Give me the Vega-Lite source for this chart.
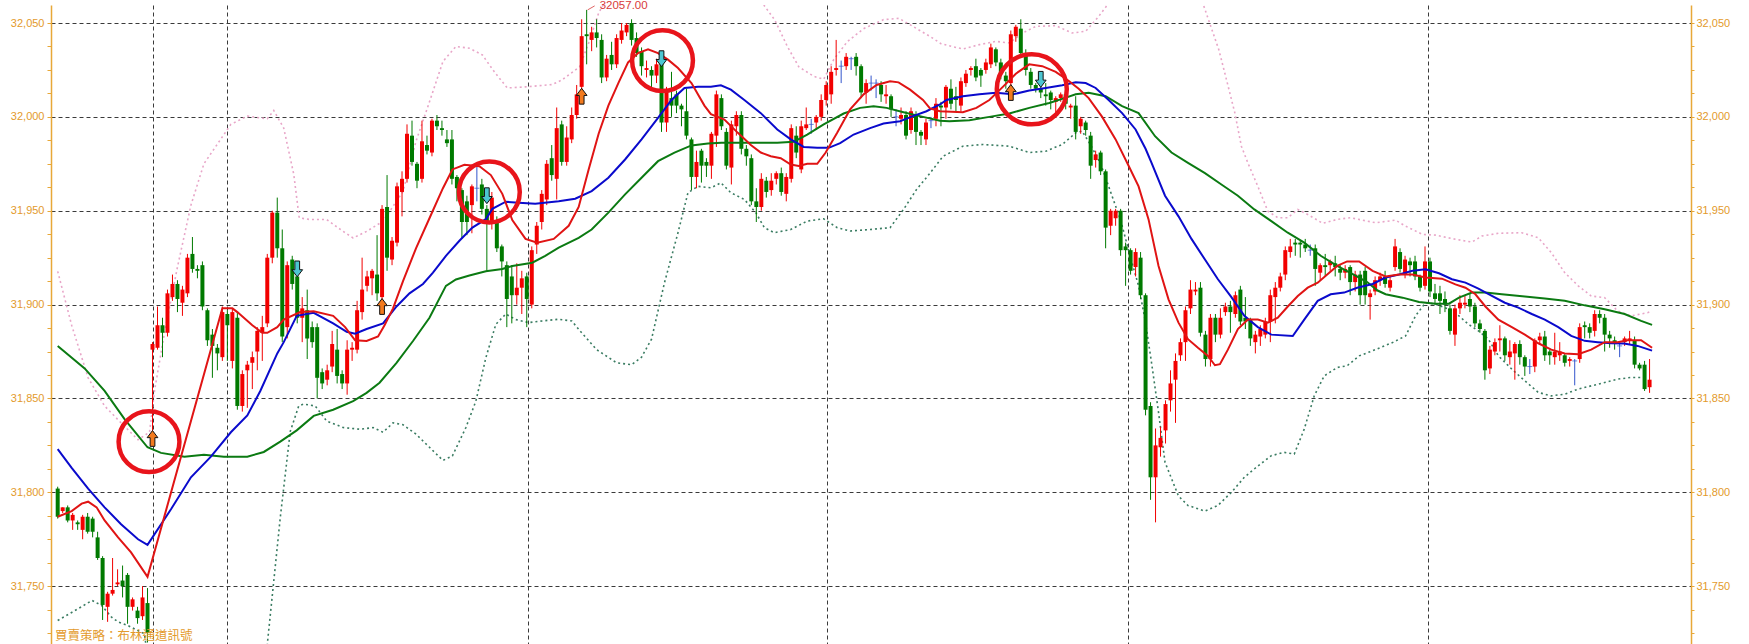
{
"$schema":"https://vega.github.io/schema/vega-lite/v6.json",
"width":1640,"height":639,
"autosize":{"type":"none"},
"padding":{"left":51,"top":5,"right":58,"bottom":0},
"background":"white",
"config":{"view":{"stroke":null}},
"datasets":{
"candles":[
{"i":0,"o":31802,"h":31803,"l":31786,"c":31787},{"i":1,"o":31790,"h":31792,"l":31789,"c":31792},{"i":2,"o":31792,"h":31793,"l":31784,"c":31785},{"i":3,"o":31785,"h":31789,"l":31780,"c":31788},{"i":4,"o":31784,"h":31785,"l":31780,"c":31783},{"i":5,"o":31780,"h":31788,"l":31775,"c":31787},{"i":6,"o":31787,"h":31789,"l":31778,"c":31779},{"i":7,"o":31786,"h":31787,"l":31776,"c":31779},{"i":8,"o":31776,"h":31779,"l":31764,"c":31765},{"i":9,"o":31765,"h":31766,"l":31732,"c":31740},
{"i":10,"o":31739,"h":31747,"l":31731,"c":31746},{"i":11,"o":31746,"h":31765,"l":31745,"c":31748},{"i":12,"o":31751,"h":31759,"l":31750,"c":31752},{"i":13,"o":31753,"h":31761,"l":31744,"c":31750},{"i":14,"o":31756,"h":31757,"l":31730,"c":31739},{"i":15,"o":31739,"h":31744,"l":31737,"c":31743},{"i":16,"o":31737,"h":31739,"l":31730,"c":31733},{"i":17,"o":31734,"h":31750,"l":31732,"c":31744},{"i":18,"o":31741,"h":31749,"l":31720,"c":31725},{"i":19,"o":31876,"h":31880,"l":31830,"c":31879},
{"i":20,"o":31877,"h":31899,"l":31876,"c":31889},{"i":21,"o":31889,"h":31893,"l":31872,"c":31885},{"i":22,"o":31885,"h":31908,"l":31883,"c":31906},{"i":23,"o":31904,"h":31916,"l":31902,"c":31911},{"i":24,"o":31911,"h":31913,"l":31896,"c":31903},{"i":25,"o":31901,"h":31910,"l":31894,"c":31908},{"i":26,"o":31906,"h":31927,"l":31904,"c":31925},{"i":27,"o":31927,"h":31936,"l":31917,"c":31919},{"i":28,"o":31919,"h":31921,"l":31914,"c":31918},{"i":29,"o":31921,"h":31923,"l":31897,"c":31899},
{"i":30,"o":31897,"h":31898,"l":31878,"c":31881},{"i":31,"o":31884,"h":31887,"l":31861,"c":31878},{"i":32,"o":31877,"h":31879,"l":31865,"c":31874},{"i":33,"o":31872,"h":31899,"l":31870,"c":31896},{"i":34,"o":31895,"h":31897,"l":31870,"c":31889},{"i":35,"o":31870,"h":31898,"l":31866,"c":31896},{"i":36,"o":31893,"h":31896,"l":31844,"c":31846},{"i":37,"o":31846,"h":31865,"l":31843,"c":31863},{"i":38,"o":31865,"h":31870,"l":31845,"c":31868},{"i":39,"o":31869,"h":31875,"l":31855,"c":31872},
{"i":40,"o":31875,"h":31888,"l":31865,"c":31886},{"i":41,"o":31885,"h":31894,"l":31870,"c":31888},{"i":42,"o":31890,"h":31927,"l":31888,"c":31925},{"i":43,"o":31925,"h":31950,"l":31922,"c":31949},{"i":44,"o":31949,"h":31957,"l":31925,"c":31930},{"i":45,"o":31930,"h":31940,"l":31880,"c":31883},{"i":46,"o":31888,"h":31923,"l":31882,"c":31921},{"i":47,"o":31924,"h":31926,"l":31908,"c":31911},{"i":48,"o":31915,"h":31917,"l":31890,"c":31893},{"i":49,"o":31893,"h":31904,"l":31880,"c":31898},
{"i":50,"o":31897,"h":31908,"l":31871,"c":31882},{"i":51,"o":31888,"h":31891,"l":31877,"c":31880},{"i":52,"o":31888,"h":31890,"l":31850,"c":31861},{"i":53,"o":31864,"h":31866,"l":31855,"c":31858},{"i":54,"o":31860,"h":31868,"l":31857,"c":31865},{"i":55,"o":31867,"h":31886,"l":31864,"c":31879},{"i":56,"o":31876,"h":31887,"l":31858,"c":31862},{"i":57,"o":31863,"h":31865,"l":31855,"c":31858},{"i":58,"o":31858,"h":31881,"l":31852,"c":31876},{"i":59,"o":31876,"h":31880,"l":31870,"c":31877},
{"i":60,"o":31876,"h":31902,"l":31874,"c":31897},{"i":61,"o":31896,"h":31925,"l":31892,"c":31908},{"i":62,"o":31910,"h":31918,"l":31907,"c":31915},{"i":63,"o":31914,"h":31919,"l":31905,"c":31918},{"i":64,"o":31916,"h":31937,"l":31902,"c":31906},{"i":65,"o":31904,"h":31953,"l":31900,"c":31951},{"i":66,"o":31952,"h":31969,"l":31918,"c":31925},{"i":67,"o":31924,"h":31936,"l":31921,"c":31934},{"i":68,"o":31933,"h":31965,"l":31931,"c":31963},{"i":69,"o":31960,"h":31971,"l":31947,"c":31967},
{"i":70,"o":31967,"h":31996,"l":31965,"c":31991},{"i":71,"o":31990,"h":31998,"l":31974,"c":31976},{"i":72,"o":31975,"h":31976,"l":31962,"c":31966},{"i":73,"o":31967,"h":31998,"l":31965,"c":31987},{"i":74,"o":31985,"h":31990,"l":31980,"c":31982},{"i":75,"o":31981,"h":31999,"l":31979,"c":31998},{"i":76,"o":31998,"h":32001,"l":31993,"c":31995},{"i":77,"o":31994,"h":31998,"l":31990,"c":31993},{"i":78,"o":31988,"h":31993,"l":31984,"c":31986},{"i":79,"o":31988,"h":31993,"l":31964,"c":31967},
{"i":80,"o":31968,"h":31969,"l":31955,"c":31962},{"i":81,"o":31961,"h":31962,"l":31935,"c":31944},{"i":82,"o":31955,"h":31958,"l":31937,"c":31944},{"i":83,"o":31953,"h":31964,"l":31938,"c":31963},{"i":84,"o":31962,"h":31975,"l":31955,"c":31962},{"i":85,"o":31964,"h":31967,"l":31948,"c":31951},{"i":86,"o":31951,"h":31953,"l":31918,"c":31944},{"i":87,"o":31944,"h":31960,"l":31940,"c":31957},{"i":88,"o":31945,"h":31947,"l":31928,"c":31930},{"i":89,"o":31931,"h":31932,"l":31915,"c":31923},
{"i":90,"o":31921,"h":31923,"l":31888,"c":31903},{"i":91,"o":31915,"h":31921,"l":31890,"c":31905},{"i":92,"o":31905,"h":31922,"l":31900,"c":31909},{"i":93,"o":31909,"h":31918,"l":31895,"c":31914},{"i":94,"o":31915,"h":31917,"l":31888,"c":31903},{"i":95,"o":31900,"h":31931,"l":31898,"c":31929},{"i":96,"o":31932,"h":31944,"l":31927,"c":31942},{"i":97,"o":31944,"h":31961,"l":31940,"c":31959},{"i":98,"o":31956,"h":31977,"l":31953,"c":31975},{"i":99,"o":31978,"h":31985,"l":31966,"c":31969},
{"i":100,"o":31967,"h":32005,"l":31956,"c":31994},{"i":101,"o":31996,"h":31998,"l":31974,"c":31976},{"i":102,"o":31976,"h":31995,"l":31974,"c":31989},{"i":103,"o":31988,"h":32005,"l":31986,"c":32001},{"i":104,"o":32001,"h":32017,"l":31999,"c":32012},{"i":105,"o":32016,"h":32052,"l":32014,"c":32043},{"i":106,"o":32044,"h":32057,"l":32028,"c":32043},{"i":107,"o":32041,"h":32048,"l":32035,"c":32045},{"i":108,"o":32045,"h":32052,"l":32037,"c":32042},{"i":109,"o":32041,"h":32044,"l":32018,"c":32021},
{"i":110,"o":32021,"h":32033,"l":32019,"c":32031},{"i":111,"o":32033,"h":32040,"l":32025,"c":32028},{"i":112,"o":32028,"h":32044,"l":32026,"c":32042},{"i":113,"o":32041,"h":32050,"l":32039,"c":32046},{"i":114,"o":32045,"h":32050,"l":32043,"c":32049},{"i":115,"o":32050,"h":32052,"l":32038,"c":32041},{"i":116,"o":32042,"h":32045,"l":32032,"c":32034},{"i":117,"o":32035,"h":32037,"l":32022,"c":32027},{"i":118,"o":32025,"h":32030,"l":32021,"c":32026},{"i":119,"o":32025,"h":32027,"l":32015,"c":32022},
{"i":120,"o":32022,"h":32031,"l":32018,"c":32028},{"i":121,"o":32030,"h":32031,"l":31992,"c":31997},{"i":122,"o":31997,"h":32016,"l":31992,"c":32014},{"i":123,"o":32010,"h":32024,"l":32000,"c":32006},{"i":124,"o":32012,"h":32014,"l":32002,"c":32006},{"i":125,"o":32006,"h":32007,"l":31995,"c":32004},{"i":126,"o":32003,"h":32015,"l":31988,"c":31990},{"i":127,"o":31988,"h":31989,"l":31961,"c":31968},{"i":128,"o":31968,"h":31982,"l":31962,"c":31976},{"i":129,"o":31982,"h":31983,"l":31965,"c":31974},
{"i":130,"o":31976,"h":31978,"l":31968,"c":31974},{"i":131,"o":31974,"h":31992,"l":31967,"c":31991},{"i":132,"o":31990,"h":32014,"l":31984,"c":32012},{"i":133,"o":32010,"h":32012,"l":31993,"c":31995},{"i":134,"o":31992,"h":31994,"l":31972,"c":31974},{"i":135,"o":31973,"h":31998,"l":31964,"c":31996},{"i":136,"o":31995,"h":32003,"l":31990,"c":32001},{"i":137,"o":32001,"h":32003,"l":31980,"c":31983},{"i":138,"o":31983,"h":31985,"l":31974,"c":31979},{"i":139,"o":31978,"h":31980,"l":31953,"c":31955},
{"i":140,"o":31955,"h":31962,"l":31944,"c":31952},{"i":141,"o":31952,"h":31970,"l":31950,"c":31967},{"i":142,"o":31966,"h":31968,"l":31957,"c":31960},{"i":143,"o":31961,"h":31970,"l":31958,"c":31966},{"i":144,"o":31967,"h":31971,"l":31964,"c":31970},{"i":145,"o":31970,"h":31973,"l":31958,"c":31960},{"i":146,"o":31959,"h":31970,"l":31955,"c":31968},{"i":147,"o":31967,"h":31996,"l":31965,"c":31994},{"i":148,"o":31990,"h":31995,"l":31978,"c":31981},{"i":149,"o":31972,"h":31998,"l":31970,"c":31995},
{"i":150,"o":31994,"h":32005,"l":31993,"c":31996},{"i":151,"o":31996,"h":31999,"l":31991,"c":31996},{"i":152,"o":31997,"h":32001,"l":31993,"c":32000},{"i":153,"o":32000,"h":32012,"l":31998,"c":32009},{"i":154,"o":32009,"h":32019,"l":32006,"c":32017},{"i":155,"o":32012,"h":32027,"l":32007,"c":32024},{"i":156,"o":32025,"h":32041,"l":32022,"c":32026},{"i":157,"o":32027,"h":32030,"l":32018,"c":32027},{"i":158,"o":32027,"h":32034,"l":32025,"c":32032},{"i":159,"o":32031,"h":32032,"l":32025,"c":32031},
{"i":160,"o":32032,"h":32034,"l":32022,"c":32027},{"i":161,"o":32027,"h":32028,"l":32010,"c":32013},{"i":162,"o":32013,"h":32020,"l":32007,"c":32018},{"i":163,"o":32018,"h":32022,"l":32014,"c":32018},{"i":164,"o":32018,"h":32020,"l":32010,"c":32018},{"i":165,"o":32017,"h":32019,"l":32008,"c":32012},{"i":166,"o":32011,"h":32017,"l":32007,"c":32012},{"i":167,"o":32011,"h":32012,"l":32000,"c":32004},{"i":168,"o":32000,"h":32004,"l":31995,"c":32000},{"i":169,"o":31999,"h":32005,"l":31996,"c":32001},
{"i":170,"o":32001,"h":32003,"l":31988,"c":31990},{"i":171,"o":31993,"h":32005,"l":31991,"c":32003},{"i":172,"o":32001,"h":32003,"l":31985,"c":31992},{"i":173,"o":31992,"h":31993,"l":31985,"c":31990},{"i":174,"o":31988,"h":31999,"l":31985,"c":31997},{"i":175,"o":31998,"h":32000,"l":31994,"c":31998},{"i":176,"o":31999,"h":32010,"l":31995,"c":32007},{"i":177,"o":32006,"h":32008,"l":31995,"c":32005},{"i":178,"o":32005,"h":32017,"l":31999,"c":32016},{"i":179,"o":32015,"h":32020,"l":32004,"c":32007},
{"i":180,"o":32011,"h":32016,"l":32003,"c":32009},{"i":181,"o":32006,"h":32021,"l":32003,"c":32019},{"i":182,"o":32018,"h":32025,"l":32016,"c":32023},{"i":183,"o":32025,"h":32027,"l":32022,"c":32026},{"i":184,"o":32027,"h":32031,"l":32019,"c":32021},{"i":185,"o":32025,"h":32026,"l":32016,"c":32022},{"i":186,"o":32025,"h":32031,"l":32023,"c":32029},{"i":187,"o":32028,"h":32039,"l":32026,"c":32037},{"i":188,"o":32036,"h":32037,"l":32027,"c":32029},{"i":189,"o":32029,"h":32031,"l":32020,"c":32023},
{"i":190,"o":32022,"h":32024,"l":32015,"c":32019},{"i":191,"o":32018,"h":32046,"l":32016,"c":32044},{"i":192,"o":32043,"h":32049,"l":32040,"c":32048},{"i":193,"o":32047,"h":32052,"l":32032,"c":32034},{"i":194,"o":32034,"h":32036,"l":32022,"c":32025},{"i":195,"o":32024,"h":32026,"l":32015,"c":32017},{"i":196,"o":32017,"h":32018,"l":32013,"c":32015},{"i":197,"o":32015,"h":32016,"l":32010,"c":32013},{"i":198,"o":32012,"h":32018,"l":32006,"c":32011},{"i":199,"o":32013,"h":32014,"l":32004,"c":32009},
{"i":200,"o":32008,"h":32011,"l":32002,"c":32010},{"i":201,"o":32010,"h":32013,"l":32008,"c":32012},{"i":202,"o":32012,"h":32013,"l":32004,"c":32007},{"i":203,"o":32005,"h":32007,"l":31999,"c":32006},{"i":204,"o":32006,"h":32011,"l":31988,"c":31992},{"i":205,"o":31995,"h":32000,"l":31991,"c":31999},{"i":206,"o":31997,"h":31998,"l":31990,"c":31993},{"i":207,"o":31990,"h":31992,"l":31967,"c":31974},{"i":208,"o":31977,"h":31982,"l":31973,"c":31980},{"i":209,"o":31981,"h":31982,"l":31969,"c":31971},
{"i":210,"o":31971,"h":31972,"l":31930,"c":31941},{"i":211,"o":31942,"h":31951,"l":31937,"c":31950},{"i":212,"o":31946,"h":31951,"l":31942,"c":31950},{"i":213,"o":31950,"h":31951,"l":31926,"c":31929},{"i":214,"o":31931,"h":31933,"l":31910,"c":31929},{"i":215,"o":31929,"h":31930,"l":31916,"c":31918},{"i":216,"o":31920,"h":31930,"l":31915,"c":31928},{"i":217,"o":31925,"h":31928,"l":31903,"c":31905},{"i":218,"o":31905,"h":31906,"l":31841,"c":31844},{"i":219,"o":31846,"h":31848,"l":31796,"c":31808},
{"i":220,"o":31808,"h":31834,"l":31784,"c":31825},{"i":221,"o":31824,"h":31835,"l":31819,"c":31829},{"i":222,"o":31833,"h":31849,"l":31826,"c":31847},{"i":223,"o":31849,"h":31865,"l":31843,"c":31858},{"i":224,"o":31860,"h":31874,"l":31837,"c":31870},{"i":225,"o":31873,"h":31882,"l":31870,"c":31880},{"i":226,"o":31880,"h":31899,"l":31870,"c":31897},{"i":227,"o":31898,"h":31913,"l":31895,"c":31908},{"i":228,"o":31907,"h":31912,"l":31905,"c":31908},{"i":229,"o":31909,"h":31912,"l":31883,"c":31885},
{"i":230,"o":31884,"h":31886,"l":31867,"c":31871},{"i":231,"o":31871,"h":31895,"l":31867,"c":31893},{"i":232,"o":31893,"h":31895,"l":31880,"c":31884},{"i":233,"o":31884,"h":31898,"l":31882,"c":31893},{"i":234,"o":31896,"h":31901,"l":31894,"c":31899},{"i":235,"o":31899,"h":31902,"l":31885,"c":31896},{"i":236,"o":31895,"h":31907,"l":31893,"c":31905},{"i":237,"o":31908,"h":31910,"l":31889,"c":31891},{"i":238,"o":31893,"h":31904,"l":31887,"c":31891},{"i":239,"o":31892,"h":31893,"l":31878,"c":31882},
{"i":240,"o":31880,"h":31886,"l":31874,"c":31884},{"i":241,"o":31883,"h":31889,"l":31878,"c":31887},{"i":242,"o":31884,"h":31893,"l":31882,"c":31891},{"i":243,"o":31891,"h":31908,"l":31880,"c":31905},{"i":244,"o":31904,"h":31912,"l":31890,"c":31909},{"i":245,"o":31909,"h":31917,"l":31907,"c":31915},{"i":246,"o":31916,"h":31931,"l":31913,"c":31929},{"i":247,"o":31928,"h":31935,"l":31925,"c":31931},{"i":248,"o":31933,"h":31935,"l":31926,"c":31932},{"i":249,"o":31933,"h":31934,"l":31925,"c":31932},
{"i":250,"o":31932,"h":31935,"l":31928,"c":31930},{"i":251,"o":31929,"h":31932,"l":31926,"c":31929},{"i":252,"o":31930,"h":31932,"l":31910,"c":31919},{"i":253,"o":31917,"h":31922,"l":31913,"c":31921},{"i":254,"o":31921,"h":31927,"l":31915,"c":31920},{"i":255,"o":31921,"h":31924,"l":31918,"c":31923},{"i":256,"o":31922,"h":31926,"l":31915,"c":31920},{"i":257,"o":31919,"h":31921,"l":31913,"c":31917},{"i":258,"o":31917,"h":31921,"l":31914,"c":31919},{"i":259,"o":31920,"h":31921,"l":31905,"c":31912},
{"i":260,"o":31912,"h":31918,"l":31907,"c":31916},{"i":261,"o":31916,"h":31918,"l":31900,"c":31905},{"i":262,"o":31918,"h":31920,"l":31900,"c":31905},{"i":263,"o":31904,"h":31908,"l":31892,"c":31906},{"i":264,"o":31907,"h":31915,"l":31905,"c":31913},{"i":265,"o":31913,"h":31917,"l":31910,"c":31915},{"i":266,"o":31915,"h":31918,"l":31909,"c":31911},{"i":267,"o":31909,"h":31915,"l":31907,"c":31913},{"i":268,"o":31920,"h":31935,"l":31918,"c":31931},{"i":269,"o":31928,"h":31930,"l":31917,"c":31919},
{"i":270,"o":31916,"h":31926,"l":31914,"c":31924},{"i":271,"o":31923,"h":31925,"l":31915,"c":31921},{"i":272,"o":31923,"h":31926,"l":31913,"c":31915},{"i":273,"o":31915,"h":31916,"l":31907,"c":31909},{"i":274,"o":31910,"h":31931,"l":31908,"c":31923},{"i":275,"o":31923,"h":31925,"l":31904,"c":31907},{"i":276,"o":31906,"h":31911,"l":31900,"c":31903},{"i":277,"o":31906,"h":31910,"l":31895,"c":31902},{"i":278,"o":31903,"h":31907,"l":31896,"c":31900},{"i":279,"o":31898,"h":31900,"l":31884,"c":31886},
{"i":280,"o":31884,"h":31900,"l":31878,"c":31898},{"i":281,"o":31898,"h":31905,"l":31895,"c":31901},{"i":282,"o":31900,"h":31905,"l":31898,"c":31901},{"i":283,"o":31903,"h":31906,"l":31896,"c":31899},{"i":284,"o":31899,"h":31901,"l":31888,"c":31890},{"i":285,"o":31890,"h":31892,"l":31885,"c":31887},{"i":286,"o":31886,"h":31887,"l":31860,"c":31865},{"i":287,"o":31866,"h":31878,"l":31863,"c":31876},{"i":288,"o":31875,"h":31882,"l":31873,"c":31880},{"i":289,"o":31881,"h":31889,"l":31875,"c":31882},
{"i":290,"o":31882,"h":31883,"l":31870,"c":31873},{"i":291,"o":31872,"h":31881,"l":31868,"c":31875},{"i":292,"o":31874,"h":31880,"l":31860,"c":31879},{"i":293,"o":31879,"h":31881,"l":31868,"c":31872},{"i":294,"o":31872,"h":31873,"l":31862,"c":31867},{"i":295,"o":31867,"h":31871,"l":31863,"c":31867},{"i":296,"o":31867,"h":31882,"l":31864,"c":31881},{"i":297,"o":31881,"h":31885,"l":31879,"c":31883},{"i":298,"o":31883,"h":31886,"l":31870,"c":31873},{"i":299,"o":31875,"h":31876,"l":31868,"c":31873},
{"i":300,"o":31872,"h":31885,"l":31868,"c":31875},{"i":301,"o":31873,"h":31880,"l":31870,"c":31875},{"i":302,"o":31873,"h":31874,"l":31867,"c":31869},{"i":303,"o":31870,"h":31872,"l":31867,"c":31871},{"i":304,"o":31870,"h":31871,"l":31857,"c":31870},{"i":305,"o":31871,"h":31890,"l":31869,"c":31888},{"i":306,"o":31889,"h":31891,"l":31882,"c":31888},{"i":307,"o":31888,"h":31890,"l":31882,"c":31885},{"i":308,"o":31886,"h":31897,"l":31883,"c":31895},{"i":309,"o":31895,"h":31897,"l":31890,"c":31893},
{"i":310,"o":31893,"h":31895,"l":31875,"c":31884},{"i":311,"o":31884,"h":31886,"l":31877,"c":31882},{"i":312,"o":31881,"h":31883,"l":31876,"c":31880},{"i":313,"o":31878,"h":31880,"l":31872,"c":31878},{"i":314,"o":31880,"h":31883,"l":31878,"c":31882},{"i":315,"o":31881,"h":31886,"l":31879,"c":31882},{"i":316,"o":31881,"h":31883,"l":31866,"c":31868},{"i":317,"o":31868,"h":31869,"l":31865,"c":31866},{"i":318,"o":31868,"h":31870,"l":31854,"c":31855},{"i":319,"o":31856,"h":31871,"l":31853,"c":31860}
],
"red":[{"i":0,"v":31787},{"i":2.8,"v":31790},{"i":4.8,"v":31794},{"i":6.1,"v":31795},{"i":7.8,"v":31792},{"i":9.4,"v":31785},{"i":12.1,"v":31776},{"i":14.7,"v":31768},{"i":18,"v":31755},{"i":33,"v":31898},{"i":35,"v":31898},{"i":36,"v":31896},{"i":39,"v":31889},{"i":41,"v":31885},{"i":42,"v":31885},{"i":44,"v":31888},{"i":45.3,"v":31892},{"i":48.6,"v":31896},{"i":51.3,"v":31896.5},{"i":55.2,"v":31894},{"i":57.6,"v":31888},{"i":59.6,"v":31881},{"i":61.9,"v":31880.6},{"i":64.2,"v":31883},{"i":65.5,"v":31889},{"i":67.2,"v":31898},{"i":69.2,"v":31912.5},{"i":71.8,"v":31930},{"i":74.5,"v":31946},{"i":77.2,"v":31962},{"i":79.1,"v":31972},{"i":81.5,"v":31974.5},{"i":84.5,"v":31973.7},{"i":86.8,"v":31969},{"i":89.1,"v":31959},{"i":91.1,"v":31945},{"i":93.75,"v":31935},{"i":96.1,"v":31933},{"i":99.4,"v":31935},{"i":102.4,"v":31942},{"i":104.4,"v":31952},{"i":106.4,"v":31972},{"i":108.4,"v":31991},{"i":110.35,"v":32006},{"i":112.35,"v":32018},{"i":114.3,"v":32029},{"i":116.3,"v":32034},{"i":118.3,"v":32036},{"i":120.3,"v":32034},{"i":122.3,"v":32030.5},{"i":124.3,"v":32026},{"i":127,"v":32018},{"i":129.6,"v":32006},{"i":130.9,"v":32001.5},{"i":133.6,"v":31998.6},{"i":136.3,"v":31991.5},{"i":138.9,"v":31985},{"i":140.9,"v":31981},{"i":142.9,"v":31979},{"i":144.9,"v":31978},{"i":146.9,"v":31974.6},{"i":148.5,"v":31973.8},{"i":150.2,"v":31975},{"i":152.2,"v":31975},{"i":153.9,"v":31981},{"i":156.2,"v":31991.5},{"i":158.8,"v":32004},{"i":161.5,"v":32012},{"i":164.1,"v":32017},{"i":166.8,"v":32019},{"i":168.5,"v":32018.4},{"i":170.8,"v":32014.5},{"i":173.4,"v":32009},{"i":174.8,"v":32004.5},{"i":176.8,"v":32003},{"i":181.4,"v":32002.5},{"i":184.1,"v":32004.8},{"i":186.7,"v":32009},{"i":189.4,"v":32016},{"i":192,"v":32023},{"i":194.7,"v":32028},{"i":197.3,"v":32027},{"i":200,"v":32024},{"i":202.7,"v":32019},{"i":204.6,"v":32015},{"i":206.6,"v":32010},{"i":209.3,"v":32000},{"i":212,"v":31988},{"i":214.6,"v":31974},{"i":216.6,"v":31963},{"i":218.6,"v":31945.4},{"i":220.6,"v":31920.6},{"i":222.6,"v":31902.8},{"i":224.6,"v":31890.4},{"i":226.5,"v":31881.6},{"i":228.5,"v":31877},{"i":230.5,"v":31872.7},{"i":231.9,"v":31867.7},{"i":232.9,"v":31868.3},{"i":234.5,"v":31876},{"i":236.5,"v":31887},{"i":238.5,"v":31892},{"i":240.5,"v":31892},{"i":242.5,"v":31890.4},{"i":244.5,"v":31893},{"i":246.5,"v":31899},{"i":248.5,"v":31904.6},{"i":250.5,"v":31909},{"i":252.5,"v":31911.7},{"i":254.4,"v":31916},{"i":256.4,"v":31920.6},{"i":258.4,"v":31923},{"i":260.8,"v":31923},{"i":263.5,"v":31918},{"i":266.1,"v":31915},{"i":268.8,"v":31916},{"i":271.5,"v":31916},{"i":274.1,"v":31914.4},{"i":277.4,"v":31913.8},{"i":280.1,"v":31910.8},{"i":282.1,"v":31909},{"i":284.1,"v":31905.5},{"i":286.1,"v":31899},{"i":288.7,"v":31892},{"i":291.4,"v":31888},{"i":294,"v":31884},{"i":296.7,"v":31879.4},{"i":299.3,"v":31876},{"i":302,"v":31874},{"i":304.7,"v":31873.6},{"i":307.3,"v":31876},{"i":310,"v":31880},{"i":312.6,"v":31880},{"i":314.6,"v":31881},{"i":317.3,"v":31881},{"i":319.5,"v":31877}],
"blue":[{"i":0,"v":31823},{"i":2.8,"v":31813},{"i":6.1,"v":31802},{"i":9.4,"v":31792},{"i":12.7,"v":31783},{"i":16.1,"v":31775},{"i":18,"v":31772},{"i":22.7,"v":31791},{"i":26.7,"v":31808},{"i":30.7,"v":31819},{"i":34.7,"v":31832},{"i":38,"v":31841},{"i":40.6,"v":31854},{"i":44,"v":31874},{"i":45.3,"v":31880},{"i":47.9,"v":31894},{"i":51.3,"v":31895.6},{"i":55.2,"v":31890},{"i":57.9,"v":31885.5},{"i":59.6,"v":31884.5},{"i":61.9,"v":31887},{"i":65.2,"v":31890},{"i":67.9,"v":31899},{"i":70.5,"v":31906},{"i":73.2,"v":31911},{"i":75.2,"v":31917},{"i":77.8,"v":31926},{"i":80.5,"v":31934},{"i":83.1,"v":31941},{"i":85.8,"v":31945.5},{"i":87.1,"v":31951},{"i":89.8,"v":31954.8},{"i":92.4,"v":31954.3},{"i":95.7,"v":31953.7},{"i":100.4,"v":31955},{"i":103.7,"v":31956.4},{"i":107,"v":31960.5},{"i":110.35,"v":31967.6},{"i":113.7,"v":31977.3},{"i":117,"v":31988},{"i":120.3,"v":31999.5},{"i":123,"v":32009},{"i":125.6,"v":32015.4},{"i":128.3,"v":32016},{"i":130.9,"v":32016},{"i":132.9,"v":32016.8},{"i":134.9,"v":32014.5},{"i":137.6,"v":32009},{"i":140.9,"v":32002},{"i":144.2,"v":31993.3},{"i":146.9,"v":31988},{"i":149.5,"v":31984},{"i":152.2,"v":31983.5},{"i":154.5,"v":31983.5},{"i":156.8,"v":31986},{"i":159.5,"v":31990.6},{"i":162.8,"v":31994},{"i":165.5,"v":31996.5},{"i":168.8,"v":31997.7},{"i":171.4,"v":32000.4},{"i":174.1,"v":32003},{"i":176.8,"v":32006.6},{"i":178.1,"v":32009},{"i":181.4,"v":32011},{"i":184.7,"v":32012},{"i":188,"v":32012.8},{"i":191.4,"v":32012},{"i":194.7,"v":32014},{"i":198,"v":32015.4},{"i":201.3,"v":32016.8},{"i":204,"v":32018.4},{"i":206,"v":32018},{"i":208,"v":32015.4},{"i":210.6,"v":32009},{"i":213.3,"v":32002},{"i":216,"v":31993.3},{"i":218,"v":31983},{"i":219.2,"v":31975.5},{"i":221.9,"v":31958},{"i":224.6,"v":31947},{"i":227.2,"v":31935},{"i":229.9,"v":31924},{"i":232.5,"v":31913.5},{"i":235.2,"v":31904},{"i":237.8,"v":31894},{"i":240.5,"v":31888},{"i":243.2,"v":31884},{"i":247.5,"v":31883.3},{"i":249.8,"v":31892},{"i":252.5,"v":31902},{"i":255.1,"v":31905.5},{"i":257.8,"v":31906.4},{"i":260.4,"v":31909},{"i":263.5,"v":31911},{"i":266.1,"v":31914.4},{"i":268.8,"v":31916},{"i":271.5,"v":31918},{"i":274.1,"v":31918.8},{"i":276.8,"v":31916.7},{"i":279.4,"v":31913.5},{"i":282.1,"v":31911.7},{"i":284.7,"v":31908.5},{"i":287.4,"v":31904.6},{"i":290,"v":31901},{"i":292.7,"v":31898.4},{"i":295.4,"v":31895},{"i":298,"v":31892},{"i":300.7,"v":31888},{"i":303.3,"v":31883.3},{"i":306,"v":31880.7},{"i":308.6,"v":31880},{"i":311.3,"v":31879.4},{"i":313.9,"v":31879.3},{"i":316.6,"v":31878},{"i":319.5,"v":31875.5}],
"green":[{"i":0,"v":31878},{"i":5.4,"v":31866},{"i":9.4,"v":31854},{"i":13.4,"v":31839},{"i":18,"v":31824},{"i":20.7,"v":31821},{"i":25.4,"v":31819},{"i":29.3,"v":31820},{"i":33.3,"v":31819},{"i":38,"v":31819},{"i":41.3,"v":31821.5},{"i":44.6,"v":31827},{"i":47.9,"v":31833},{"i":51.3,"v":31840.7},{"i":55.2,"v":31844},{"i":59.2,"v":31848.6},{"i":61.9,"v":31853},{"i":64.5,"v":31858.4},{"i":67.9,"v":31869},{"i":71.2,"v":31880.6},{"i":74.5,"v":31893},{"i":77.8,"v":31910},{"i":79.8,"v":31913.4},{"i":82.5,"v":31915.5},{"i":85.8,"v":31917.8},{"i":89.1,"v":31919},{"i":91.1,"v":31920.6},{"i":95.1,"v":31922.3},{"i":97.7,"v":31926},{"i":100.4,"v":31930.3},{"i":104.4,"v":31935.6},{"i":107,"v":31940},{"i":110.35,"v":31949},{"i":113.7,"v":31958.7},{"i":117,"v":31967.6},{"i":120.3,"v":31976.4},{"i":123.6,"v":31981},{"i":127,"v":31984.8},{"i":130.3,"v":31985.8},{"i":133,"v":31986.2},{"i":137.6,"v":31986.2},{"i":144.2,"v":31986.2},{"i":147.5,"v":31986.7},{"i":150.2,"v":31990.6},{"i":153.5,"v":31996},{"i":157.5,"v":32001.8},{"i":160.8,"v":32004.8},{"i":163.5,"v":32005.7},{"i":166.1,"v":32004.8},{"i":169.5,"v":32002.5},{"i":173.4,"v":32000},{"i":176.8,"v":31998},{"i":178.7,"v":31997.7},{"i":182.7,"v":31998.2},{"i":186.7,"v":32000},{"i":190.7,"v":32001.8},{"i":194.7,"v":32004.8},{"i":198.7,"v":32007.4},{"i":201.3,"v":32009.6},{"i":204,"v":32012},{"i":206.6,"v":32012.8},{"i":210,"v":32011},{"i":213.3,"v":32005.7},{"i":216.6,"v":32002},{"i":219.9,"v":31989.7},{"i":223.2,"v":31981},{"i":226.5,"v":31975.5},{"i":229.9,"v":31970},{"i":233.2,"v":31964},{"i":236.5,"v":31958},{"i":239.8,"v":31950.7},{"i":243.2,"v":31944.5},{"i":246.5,"v":31938.3},{"i":249.8,"v":31933},{"i":253.1,"v":31926},{"i":256.4,"v":31920.6},{"i":259.7,"v":31916},{"i":262.4,"v":31912},{"i":264.5,"v":31907.5},{"i":266.1,"v":31905.5},{"i":269.5,"v":31903.7},{"i":272.8,"v":31901.4},{"i":276.1,"v":31900.5},{"i":278.8,"v":31900.5},{"i":280.8,"v":31903.7},{"i":283.4,"v":31906.4},{"i":286.1,"v":31906.4},{"i":289.4,"v":31905.5},{"i":294,"v":31904.3},{"i":298,"v":31903.2},{"i":302,"v":31902},{"i":306,"v":31899.6},{"i":310,"v":31897.5},{"i":314,"v":31895},{"i":317.3,"v":31891.3},{"i":319.5,"v":31889.2}],
"upper":[{"i":0,"v":31917.7},{"i":2.8,"v":31889},{"i":6.1,"v":31861},{"i":9.4,"v":31846},{"i":12.7,"v":31837},{"i":16.1,"v":31828},{"i":18.4,"v":31832},{"i":19.4,"v":31854},{"i":21.4,"v":31885},{"i":24,"v":31920},{"i":26.7,"v":31953},{"i":29.3,"v":31975},{"i":32,"v":31985.5},{"i":34.7,"v":31996},{"i":38,"v":32000.4},{"i":42,"v":31999},{"i":43.3,"v":32003.4},{"i":45.3,"v":31994},{"i":47.3,"v":31969.5},{"i":48.4,"v":31946.2},{"i":50.6,"v":31945.3},{"i":53.9,"v":31945.3},{"i":57.2,"v":31939},{"i":59.2,"v":31935.5},{"i":61.9,"v":31939},{"i":65.2,"v":31944.4},{"i":69.2,"v":31960.3},{"i":71.8,"v":31987},{"i":74.5,"v":32008},{"i":77.2,"v":32029.5},{"i":79.8,"v":32037.5},{"i":82.5,"v":32036.6},{"i":85.1,"v":32033},{"i":87.5,"v":32024},{"i":90.1,"v":32015.4},{"i":93.75,"v":32016},{"i":99.1,"v":32017.2},{"i":101,"v":32019.6},{"i":104.6,"v":32026.7},{"i":106.4,"v":32039.4},{"i":108.4,"v":32055.3},{"i":110,"v":32063},{"i":114,"v":32092},{"i":118,"v":32105},{"i":122,"v":32100},{"i":126,"v":32080},{"i":130,"v":32072},{"i":135,"v":32068},{"i":139,"v":32063},{"i":141.5,"v":32059.6},{"i":143.7,"v":32051.6},{"i":146.2,"v":32037.6},{"i":148.5,"v":32026.7},{"i":151.5,"v":32021.6},{"i":153.5,"v":32020},{"i":155.5,"v":32030.5},{"i":158.2,"v":32040},{"i":161.5,"v":32047},{"i":165.5,"v":32051.8},{"i":168.6,"v":32052.5},{"i":171.5,"v":32048},{"i":174.9,"v":32042.7},{"i":177,"v":32039},{"i":179.3,"v":32037.4},{"i":181.4,"v":32036.2},{"i":184.7,"v":32038.5},{"i":188,"v":32040.2},{"i":190.7,"v":32039.4},{"i":193.4,"v":32044.7},{"i":196,"v":32048.2},{"i":200,"v":32048.6},{"i":203.3,"v":32044.7},{"i":206,"v":32045.6},{"i":208.6,"v":32053.5},{"i":210.4,"v":32059.8},{"i":213,"v":32070},{"i":216,"v":32076},{"i":220,"v":32098},{"i":225,"v":32092},{"i":229.6,"v":32059.6},{"i":232.7,"v":32035.6},{"i":234.2,"v":32020},{"i":235.9,"v":32002},{"i":237.2,"v":31984.4},{"i":238.5,"v":31975.5},{"i":240.5,"v":31963},{"i":242.5,"v":31949.8},{"i":244.5,"v":31946.3},{"i":246.5,"v":31946.3},{"i":248.5,"v":31950.7},{"i":250.5,"v":31948},{"i":253.5,"v":31943.3},{"i":256.4,"v":31945.4},{"i":259.1,"v":31946.3},{"i":262.4,"v":31944.5},{"i":264.1,"v":31943.6},{"i":268.1,"v":31945},{"i":270.1,"v":31941.8},{"i":273.5,"v":31937.4},{"i":276.1,"v":31937},{"i":280.1,"v":31934.8},{"i":283.4,"v":31933.3},{"i":285.4,"v":31936.5},{"i":288.7,"v":31938},{"i":293.4,"v":31938.3},{"i":296.7,"v":31935.6},{"i":299.3,"v":31927.7},{"i":302,"v":31917},{"i":304.7,"v":31910},{"i":307.3,"v":31904.6},{"i":310,"v":31903.7},{"i":312.6,"v":31896.6},{"i":315.3,"v":31894},{"i":318.6,"v":31895.7},{"i":319.5,"v":31896.6}],
"lower":[{"i":0,"v":31731.7},{"i":2.8,"v":31736},{"i":6.9,"v":31742.4},{"i":8.8,"v":31739.7},{"i":10.8,"v":31733.5},{"i":12.1,"v":31731},{"i":14.1,"v":31729},{"i":17.4,"v":31724.6},{"i":18,"v":31712},{"i":21.4,"v":31687},{"i":26.7,"v":31663},{"i":32,"v":31659},{"i":38,"v":31682},{"i":42,"v":31719},{"i":44.6,"v":31786.5},{"i":46.6,"v":31832.4},{"i":48.3,"v":31846},{"i":49.3,"v":31847},{"i":51.6,"v":31846},{"i":53.9,"v":31838},{"i":57.2,"v":31834.5},{"i":60.6,"v":31833.6},{"i":63.2,"v":31834.5},{"i":65.2,"v":31832},{"i":67.2,"v":31837},{"i":69.2,"v":31836},{"i":71.8,"v":31831},{"i":74.5,"v":31824},{"i":77.2,"v":31817},{"i":79.1,"v":31819.4},{"i":81.8,"v":31834.5},{"i":83.8,"v":31848.6},{"i":85.8,"v":31871.7},{"i":87.8,"v":31889.5},{"i":89.8,"v":31895},{"i":91.8,"v":31892},{"i":94.4,"v":31890.4},{"i":97.1,"v":31891.3},{"i":100.4,"v":31892.2},{"i":103,"v":31891.3},{"i":105,"v":31885},{"i":108,"v":31876},{"i":112,"v":31869},{"i":115,"v":31868},{"i":117,"v":31872},{"i":119,"v":31881.6},{"i":121.6,"v":31911.7},{"i":124.3,"v":31938.3},{"i":126.3,"v":31959.6},{"i":128.3,"v":31963},{"i":130.9,"v":31962.2},{"i":132.9,"v":31964.9},{"i":134.9,"v":31959.6},{"i":137.6,"v":31956},{"i":139.9,"v":31949},{"i":141.6,"v":31941},{"i":143.6,"v":31938.3},{"i":146.9,"v":31940},{"i":150.2,"v":31944.5},{"i":153.5,"v":31945.7},{"i":156.2,"v":31941},{"i":158.8,"v":31939.2},{"i":162.8,"v":31940},{"i":166.8,"v":31941},{"i":169.5,"v":31950.7},{"i":172.1,"v":31961.3},{"i":174.8,"v":31970},{"i":177.4,"v":31979},{"i":181.4,"v":31984.4},{"i":185.4,"v":31985.3},{"i":190.7,"v":31984.4},{"i":194.7,"v":31981},{"i":198,"v":31981.7},{"i":201.3,"v":31985.3},{"i":204,"v":31991.5},{"i":205.3,"v":31992.4},{"i":207,"v":31985},{"i":209,"v":31975},{"i":211,"v":31960},{"i":213,"v":31945},{"i":215,"v":31925},{"i":216.6,"v":31910},{"i":217.9,"v":31892},{"i":219.2,"v":31869},{"i":220.6,"v":31842.6},{"i":221.9,"v":31816},{"i":224.6,"v":31798},{"i":226.5,"v":31793},{"i":229.9,"v":31790},{"i":232.5,"v":31793},{"i":235.2,"v":31800},{"i":237.8,"v":31808},{"i":240.5,"v":31814},{"i":243.2,"v":31819.5},{"i":245.8,"v":31821.3},{"i":247.8,"v":31820.4},{"i":249.8,"v":31833.7},{"i":251.8,"v":31851.4},{"i":253.8,"v":31862},{"i":256.4,"v":31866.5},{"i":258.4,"v":31867.4},{"i":260.8,"v":31872.7},{"i":263.5,"v":31875.4},{"i":267.5,"v":31879.8},{"i":270.1,"v":31883.3},{"i":272.1,"v":31894},{"i":274.1,"v":31901},{"i":276.1,"v":31900.2},{"i":278.8,"v":31897.5},{"i":280.8,"v":31894},{"i":282.7,"v":31889.5},{"i":284.7,"v":31886},{"i":286.7,"v":31881.6},{"i":288.7,"v":31872.7},{"i":291.4,"v":31865.6},{"i":294,"v":31859.4},{"i":296.7,"v":31853.2},{"i":299.3,"v":31851.4},{"i":302,"v":31852.3},{"i":304.7,"v":31855},{"i":307.3,"v":31856.7},{"i":310,"v":31858.5},{"i":312.6,"v":31860.3},{"i":315.3,"v":31861.2},{"i":317.3,"v":31861.2},{"i":318.6,"v":31860.3}],
"buy":[{"i":19,"v":31828.7},{"i":65,"v":31899},{"i":105,"v":32011},{"i":191,"v":32013}],
"sell":[{"i":48,"v":31919},{"i":86,"v":31958},{"i":121,"v":32031},{"i":197,"v":32020}],
"rings":[{"i":18.3,"v":31827},{"i":86.5,"v":31960},{"i":121.2,"v":32030},{"i":195.2,"v":32014.7}],
"peak":[{"i":106,"v":32057,"label":"32057.00"}],
"note":[{"i":-0.34,"v":31719.2,"label":"買賣策略：布林通道訊號"}]
},
"encoding":{
"x":{"field":"i","type":"quantitative","scale":{"domain":[-0.34,326.3],"nice":false,"zero":false},
"axis":{"orient":"bottom","title":null,"values":[19,34,94.3,154.2,214.4,274.5],"labels":false,"ticks":false,"domain":false,"grid":true,"gridColor":"#3a3a3a","gridDash":[4,3],"gridWidth":1}}
},
"layer":[
{"data":{"name":"upper"},"mark":{"type":"line","clip":true,"color":"#E8A6C8","strokeWidth":1.6,"strokeDash":[2,3]},
"encoding":{"y":{"field":"v","type":"quantitative","scale":{"domain":[31719.2,32059.6],"nice":false,"zero":false},
"axis":{"orient":"left","title":null,"values":[31725,31737.5,31750,31762.5,31775,31787.5,31800,31812.5,31825,31837.5,31850,31862.5,31875,31887.5,31900,31912.5,31925,31937.5,31950,31962.5,31975,31987.5,32000,32012.5,32025,32037.5,32050],
"labelExpr":"datum.value % 50 === 0 ? format(datum.value, ',') : ''","labelColor":"#E39A2B","labelFont":"Liberation Sans","labelFontSize":11,"labelPadding":3,"tickColor":"#E8A838","tickSize":4,"domainColor":"#E8A838","domainWidth":1.5,"grid":true,"gridColor":"#3a3a3a","gridDash":[4,3],"gridOpacity":{"condition":{"test":"datum.value % 50 === 0","value":1},"value":0},"labelOverlap":false,"labelBound":false,"labelFlush":false}}}},
{"data":{"name":"lower"},"mark":{"type":"line","clip":true,"color":"#3A7C62","strokeWidth":1.6,"strokeDash":[2,3]},
"encoding":{"y":{"field":"v","type":"quantitative","scale":{"domain":[31719.2,32059.6],"nice":false,"zero":false},
"axis":{"orient":"right","title":null,"values":[31725,31737.5,31750,31762.5,31775,31787.5,31800,31812.5,31825,31837.5,31850,31862.5,31875,31887.5,31900,31912.5,31925,31937.5,31950,31962.5,31975,31987.5,32000,32012.5,32025,32037.5,32050],
"labelExpr":"datum.value % 50 === 0 ? format(datum.value, ',') : ''","labelColor":"#E39A2B","labelFont":"Liberation Sans","labelFontSize":11,"labelPadding":2,"tickColor":"#E8A838","tickSize":3,"domainColor":"#E8A838","domainWidth":1.5,"grid":false,"labelOverlap":false,"labelBound":false,"labelFlush":false}}}},
{"data":{"name":"candles"},"mark":{"type":"rule","strokeWidth":1,"clip":true},
"encoding":{"y":{"field":"l","type":"quantitative","scale":{"domain":[31719.2,32059.6],"nice":false,"zero":false},"axis":null},"y2":{"field":"h"},
"color":{"condition":[{"test":"datum.c > datum.o","value":"#F20000"},{"test":"datum.c < datum.o","value":"#007A00"}],"value":"#3355CC"}}},
{"data":{"name":"candles"},"mark":{"type":"bar","width":4,"clip":true},
"encoding":{"y":{"field":"o","type":"quantitative","scale":{"domain":[31719.2,32059.6],"nice":false,"zero":false},"axis":null},"y2":{"field":"c"},
"color":{"condition":[{"test":"datum.c > datum.o","value":"#F20000"}],"value":"#007A00"}}},
{"data":{"name":"candles"},"transform":[{"filter":"datum.o == datum.c"}],"mark":{"type":"tick","orient":"horizontal","size":5,"thickness":1,"color":"#3355CC"},
"encoding":{"y":{"field":"o","type":"quantitative","scale":{"domain":[31719.2,32059.6],"nice":false,"zero":false},"axis":null}}},
{"data":{"name":"green"},"mark":{"type":"line","clip":true,"color":"#0B7A12","strokeWidth":2},
"encoding":{"y":{"field":"v","type":"quantitative","scale":{"domain":[31719.2,32059.6],"nice":false,"zero":false},"axis":null}}},
{"data":{"name":"blue"},"mark":{"type":"line","clip":true,"color":"#0A0ACC","strokeWidth":2},
"encoding":{"y":{"field":"v","type":"quantitative","scale":{"domain":[31719.2,32059.6],"nice":false,"zero":false},"axis":null}}},
{"data":{"name":"red"},"mark":{"type":"line","clip":true,"color":"#E01414","strokeWidth":2},
"encoding":{"y":{"field":"v","type":"quantitative","scale":{"domain":[31719.2,32059.6],"nice":false,"zero":false},"axis":null}}},
{"data":{"name":"rings"},"mark":{"type":"point","shape":"circle","filled":false,"stroke":"#E8141B","strokeWidth":4.5,"opacity":1},
"encoding":{"y":{"field":"v","type":"quantitative","scale":{"domain":[31719.2,32059.6],"nice":false,"zero":false},"axis":null},
"size":{"condition":{"test":"datum.i > 190","value":4900},"value":3700}}},
{"data":{"name":"buy"},"mark":{"type":"point","shape":"M0,-1L0.68,-0.1L0.3,-0.1L0.3,1L-0.3,1L-0.3,-0.1L-0.68,-0.1Z","filled":true,"fill":"#F27A1E","stroke":"#111111","strokeWidth":1,"size":250,"opacity":1},
"encoding":{"y":{"field":"v","type":"quantitative","scale":{"domain":[31719.2,32059.6],"nice":false,"zero":false},"axis":null}}},
{"data":{"name":"sell"},"mark":{"type":"point","shape":"M0,1L0.68,0.1L0.3,0.1L0.3,-1L-0.3,-1L-0.3,0.1L-0.68,0.1Z","filled":true,"fill":"#4CC6D2","stroke":"#111111","strokeWidth":1,"size":250,"opacity":1},
"encoding":{"y":{"field":"v","type":"quantitative","scale":{"domain":[31719.2,32059.6],"nice":false,"zero":false},"axis":null}}},
{"data":{"name":"peak"},"mark":{"type":"rule","color":"#E06464","strokeWidth":1,"xOffset":1,"x2Offset":8,"y2Offset":-4},
"encoding":{"y":{"field":"v","type":"quantitative","scale":{"domain":[31719.2,32059.6],"nice":false,"zero":false},"axis":null},"x2":{"field":"i"},"y2":{"field":"v"}}},
{"data":{"name":"peak"},"mark":{"type":"text","align":"left","baseline":"middle","dx":13,"dy":-4,"font":"Liberation Sans","fontSize":11.5,"color":"#D83A3A"},
"encoding":{"y":{"field":"v","type":"quantitative","scale":{"domain":[31719.2,32059.6],"nice":false,"zero":false},"axis":null},"text":{"field":"label"}}},
{"data":{"name":"note"},"mark":{"type":"text","align":"left","baseline":"bottom","dx":-1,"dy":-1,"font":"Noto Sans CJK TC","fontSize":12.5,"color":"#E39A2B"},
"encoding":{"y":{"field":"v","type":"quantitative","scale":{"domain":[31719.2,32059.6],"nice":false,"zero":false},"axis":null},"text":{"field":"label"}}}
]
}
